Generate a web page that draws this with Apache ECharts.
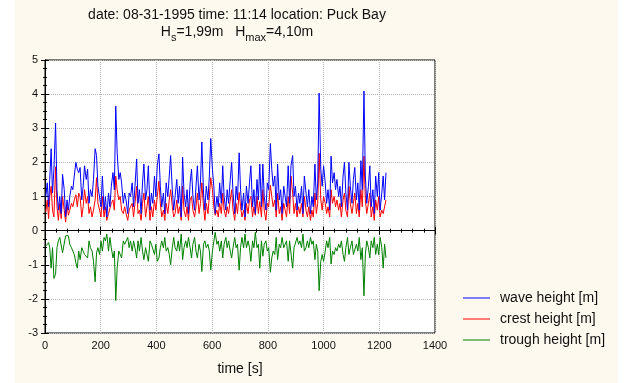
<!DOCTYPE html>
<html>
<head>
<meta charset="utf-8">
<script src="https://cdn.jsdelivr.net/npm/echarts@6/dist/echarts.min.js"></script>
<style>
  html, body { margin: 0; padding: 0; background: #fff; }
  #chart { width: 636px; height: 383px; }
</style>
</head>
<body>
<div id="chart"></div>
<script>
// time of each wave [s]
const time = [
  3, 8, 13, 17, 22, 27, 32, 38, 43, 48,
  53, 58, 63, 69, 74, 79, 84, 89, 95, 100,
  105, 111, 116, 121, 126, 132, 137, 142, 148, 153,
  158, 163, 169, 174, 180, 185, 190, 196, 201, 206,
  212, 217, 222, 228, 233, 238, 244, 249, 254, 259,
  265, 270, 275, 281, 286, 291, 297, 302, 307, 313,
  318, 323, 329, 334, 339, 345, 350, 355, 361, 366,
  371, 377, 382, 387, 393, 398, 403, 409, 414, 419,
  425, 430, 435, 441, 446, 451, 457, 462, 467, 473,
  478, 483, 489, 494, 499, 505, 510, 515, 521, 526,
  531, 537, 542, 547, 553, 558, 563, 569, 574, 579,
  585, 590, 595, 601, 606, 611, 617, 622, 627, 633,
  638, 643, 649, 654, 659, 665, 670, 675, 681, 686,
  691, 697, 702, 707, 713, 718, 723, 729, 734, 739,
  745, 750, 755, 761, 766, 771, 777, 782, 787, 793,
  798, 803, 809, 814, 819, 825, 830, 835, 841, 846,
  851, 857, 862, 867, 873, 878, 883, 889, 894, 899,
  905, 910, 915, 921, 926, 931, 937, 942, 947, 953,
  958, 963, 969, 974, 979, 984, 990, 995, 1000, 1006,
  1011, 1016, 1022, 1027, 1032, 1038, 1043, 1048, 1054, 1059,
  1064, 1070, 1075, 1080, 1086, 1091, 1096, 1102, 1107, 1112,
  1118, 1123, 1128, 1134, 1139, 1145, 1150, 1155, 1161, 1166,
  1171, 1177, 1182, 1187, 1193, 1198, 1203, 1209, 1214, 1219,
  1224
];

// wave height [m]
const waveHeight = [
  1.0, 1.4, 0.7, 1.5, 2.4, 1.1, 1.8, 3.15, 1.2, 0.6,
  1.0, 0.5, 1.65, 1.2, 0.4, 0.9, 0.6, 1.0, 1.3, 1.2,
  1.6, 2.0, 1.8, 1.7, 1.85, 0.9, 1.3, 1.9, 1.5, 1.8,
  0.8, 1.2, 1.0, 1.5, 2.4, 2.2, 1.3, 1.3, 0.7, 1.6,
  0.6, 1.0, 0.4, 1.1, 0.7, 1.3, 1.7, 1.2, 3.65, 2.3,
  1.5, 1.7, 1.4, 0.8, 1.1, 0.9, 0.5, 1.1, 1.0, 1.4,
  0.7, 1.3, 2.1, 0.8, 1.2, 0.5, 1.4, 1.95, 0.9, 1.2,
  1.9, 0.6, 1.1, 0.8, 1.6, 1.0, 1.9, 2.25, 1.3, 0.7,
  1.1, 0.5, 1.4, 1.0, 1.6, 2.2, 1.2, 0.6, 1.0, 1.5,
  0.8, 1.3, 0.4, 2.15, 1.1, 0.7, 1.2, 0.5, 1.4, 1.8,
  1.0, 0.6, 1.3, 1.9, 0.9, 1.4, 2.6, 1.1, 0.6, 1.3,
  0.9, 1.6, 2.7, 1.8, 1.3, 0.5, 1.0, 0.7, 1.4, 0.8,
  1.9, 1.0, 0.6, 1.2, 0.8, 1.5, 2.0, 1.1, 0.5, 1.3,
  0.9, 2.28, 1.2, 0.6, 1.1, 0.4, 1.3, 0.8, 1.4, 1.9,
  0.7, 1.2, 0.5, 1.5, 0.9, 1.95, 0.7, 1.95, 1.0, 0.6,
  1.4, 1.2, 2.55, 1.8, 1.3, 1.6, 0.6, 1.95, 0.9, 1.2,
  0.5, 1.3, 1.0, 0.7, 1.9, 0.8, 1.9, 2.2, 1.0, 1.3,
  0.6, 1.1, 0.8, 1.3, 0.5, 1.6, 1.1, 0.7, 1.2, 0.5,
  1.0, 0.7, 1.95, 0.9, 1.4, 4.03, 1.8, 1.3, 1.9, 1.4,
  0.8, 1.2, 0.6, 2.18, 1.4, 1.7, 1.2, 1.5, 1.0, 1.3,
  0.7, 1.6, 2.0, 1.1, 0.6, 2.0, 1.3, 0.8, 1.5, 1.85,
  0.9, 1.4, 0.6, 2.05, 1.2, 4.09, 1.6, 0.8, 1.3, 1.9,
  0.7, 1.2, 0.5, 1.6, 1.0, 1.7, 0.6, 1.1, 1.6, 0.9,
  1.7
];

// crest height [m]
const crestHeight = [
  0.55, 0.9, 0.35, 1.0, 1.3, 0.6, 0.4, 1.87, 0.7, 0.3,
  0.8, 0.35, 1.0, 0.6, 0.25, 0.75, 0.45, 0.6, 0.8, 0.7,
  0.9, 1.05, 0.7, 1.1, 1.0, 0.4, 0.7, 1.2, 0.8, 1.0,
  0.5, 0.7, 0.4, 0.6, 0.9, 1.55, 0.8, 0.6, 0.4, 1.0,
  0.4, 0.7, 0.3, 0.5, 0.5, 0.8, 0.9, 0.6, 1.6, 1.2,
  0.9, 1.0, 0.6, 0.5, 0.7, 0.5, 0.3, 0.6, 0.7, 0.8,
  0.4, 0.8, 1.3, 0.5, 0.6, 0.3, 0.8, 1.1, 0.4, 0.7,
  1.0, 0.3, 0.7, 0.4, 0.9, 0.6, 1.0, 1.45, 0.8, 0.4,
  0.6, 0.3, 0.8, 0.5, 0.9, 1.2, 0.7, 0.4, 0.5, 0.9,
  0.5, 0.7, 0.3, 1.3, 0.6, 0.4, 0.7, 0.3, 0.9, 1.0,
  0.6, 0.4, 0.7, 1.1, 0.5, 0.8, 1.4, 0.7, 0.3, 0.8,
  0.5, 1.0, 1.55, 1.2, 0.7, 0.45, 0.6, 0.4, 0.8, 0.5,
  1.1, 0.6, 0.4, 0.7, 0.5, 0.9, 1.2, 0.6, 0.3, 0.8,
  0.5, 1.12, 0.7, 0.4, 0.6, 0.3, 0.8, 0.5, 0.9, 1.0,
  0.4, 0.7, 0.45, 1.0, 0.5, 0.85, 0.4, 1.2, 0.6, 0.3,
  0.8, 0.7, 1.33, 1.0, 0.7, 0.9, 0.4, 1.1, 0.5, 0.7,
  0.3, 0.8, 0.6, 0.4, 1.0, 0.5, 1.6, 1.1, 0.5, 0.8,
  0.4, 0.7, 0.5, 0.8, 0.4, 1.0, 0.6, 0.4, 0.7, 0.3,
  0.6, 0.4, 1.1, 0.5, 0.8, 2.27, 0.9, 0.6, 1.0, 0.8,
  0.5, 0.7, 0.4, 1.2, 0.8, 1.0, 0.7, 0.9, 0.6, 0.8,
  0.4, 0.9, 1.1, 0.6, 0.4, 1.3, 0.8, 0.5, 0.8, 1.1,
  0.5, 0.8, 0.4, 1.2, 0.7, 2.18, 0.9, 0.5, 0.8, 1.1,
  0.4, 0.7, 0.3, 0.9, 0.6, 1.0, 0.4, 0.6, 0.5, 0.5,
  0.9
];

// trough height [m]
const troughHeight = [
  -0.45, -0.5, -0.35, -0.5, -1.1, -0.5, -1.4, -1.28, -0.5, -0.3,
  -0.2, -0.15, -0.65, -0.6, -0.15, -0.15, -0.15, -0.4, -0.5, -0.5,
  -0.7, -0.95, -1.1, -0.6, -0.85, -0.5, -0.6, -0.7, -0.7, -0.8,
  -0.3, -0.5, -0.6, -0.9, -1.5, -0.65, -0.5, -0.7, -0.3, -0.6,
  -0.2, -0.3, -0.1, -0.6, -0.2, -0.5, -0.8, -0.6, -2.05, -1.1,
  -0.6, -0.7, -0.8, -0.3, -0.4, -0.4, -0.2, -0.5, -0.3, -0.6,
  -0.3, -0.5, -0.8, -0.3, -0.6, -0.2, -0.6, -0.85, -0.5, -0.5,
  -0.9, -0.3, -0.4, -0.4, -0.7, -0.4, -0.9, -0.8, -0.5, -0.3,
  -0.5, -0.2, -0.6, -0.5, -0.7, -1.0, -0.5, -0.2, -0.5, -0.6,
  -0.3, -0.6, -0.1, -0.85, -0.5, -0.3, -0.5, -0.2, -0.5, -0.8,
  -0.4, -0.2, -0.6, -0.8, -0.4, -0.6, -1.2, -0.4, -0.3, -0.5,
  -0.4, -0.6, -1.15, -0.6, -0.6, -0.05, -0.4, -0.3, -0.6, -0.3,
  -0.8, -0.4, -0.2, -0.5, -0.3, -0.6, -0.8, -0.5, -0.2, -0.5,
  -0.4, -1.16, -0.5, -0.2, -0.5, -0.1, -0.5, -0.3, -0.5, -0.9,
  -0.3, -0.5, -0.05, -0.5, -0.4, -1.1, -0.3, -0.75, -0.4, -0.3,
  -0.6, -0.5, -1.22, -0.8, -0.6, -0.7, -0.2, -0.85, -0.4, -0.5,
  -0.2, -0.5, -0.4, -0.3, -0.9, -0.3, -0.3, -1.1, -0.5, -0.5,
  -0.2, -0.4, -0.3, -0.5, -0.1, -0.6, -0.5, -0.3, -0.5, -0.2,
  -0.4, -0.3, -0.85, -0.4, -0.6, -1.76, -0.9, -0.7, -0.9, -0.6,
  -0.3, -0.5, -0.2, -0.98, -0.6, -0.7, -0.5, -0.6, -0.4, -0.5,
  -0.3, -0.7, -0.9, -0.5, -0.2, -0.7, -0.5, -0.3, -0.7, -0.75,
  -0.4, -0.6, -0.2, -0.85, -0.5, -1.91, -0.7, -0.3, -0.5, -0.8,
  -0.3, -0.5, -0.2, -0.7, -0.4, -0.7, -0.2, -0.5, -1.1, -0.4,
  -0.8
];

const seriesNames = ['wave height [m]', 'crest height [m]', 'trough height [m]'];
const seriesColors = ['#0000ff', '#ff0000', '#008000'];
const seriesValues = [waveHeight, crestHeight, troughHeight];

const FONT = '"Liberation Sans", Arial, sans-serif';

const chart = echarts.init(document.getElementById('chart'));

const gridLine = {show: true, lineStyle: {color: '#b8b8b8', type: 'dotted', width: 1}};
const tickStyle = {inside: true, length: 4, lineStyle: {color: '#000'}};

const option = {
  backgroundColor: '#ffffff',
  animation: false,
  graphic: [
    {type: 'rect', z: -10, shape: {x: 15, y: 0, width: 603, height: 383}, style: {fill: '#fef9ee'}},
    {
      type: 'text', x: 237, y: 15,
      style: {
        text: 'date: 08-31-1995 time: 11:14 location: Puck Bay',
        font: '14px ' + FONT, fill: '#111', align: 'center', verticalAlign: 'middle'
      }
    },
    {
      type: 'text', x: 237, y: 25,
      style: {
        text: '{n|H}{s|s}{n|=1,99m   H}{s|max}{n|=4,10m}',
        fill: '#111', align: 'center', verticalAlign: 'top',
        rich: {
          n: {fontSize: 14, fontFamily: FONT, lineHeight: 16, verticalAlign: 'top'},
          s: {fontSize: 11, fontFamily: FONT, lineHeight: 11, verticalAlign: 'top', padding: [7, 0, 0, 0]}
        }
      }
    }
  ],
  legend: {
    orient: 'vertical',
    left: 463,
    top: 291,
    padding: 0,
    itemWidth: 27,
    itemHeight: 14,
    itemGap: 7,
    icon: 'path://M0,7L27,7L27,8L0,8Z',
    textStyle: {fontSize: 14, fontFamily: FONT, color: '#111', padding: [0, 0, 0, 5]},
    data: seriesNames.map((n, i) => ({name: n, itemStyle: {color: seriesColors[i]}}))
  },
  grid: {
    left: 45, top: 60, width: 390, height: 273,
    show: true, backgroundColor: '#ffffff', borderColor: '#000', borderWidth: 1
  },
  xAxis: [
    {
      type: 'value', min: 0, max: 1400, interval: 200,
      name: 'time [s]', nameLocation: 'middle', nameGap: 29,
      nameTextStyle: {fontSize: 14, fontFamily: FONT, color: '#111'},
      axisLine: {show: true, lineStyle: {color: '#000'}},
      axisTick: tickStyle,
      minorTick: {show: true, splitNumber: 5, length: 2, lineStyle: {color: '#000'}},
      axisLabel: {fontSize: 11, fontFamily: FONT, color: '#111', margin: 7, formatter: v => String(v)},
      splitLine: gridLine
    },
    {
      type: 'value', position: 'top', min: 0, max: 1400, interval: 200,
      axisLine: {show: true, lineStyle: {color: '#000'}},
      axisTick: tickStyle,
      minorTick: {show: true, splitNumber: 5, length: 2, lineStyle: {color: '#000'}},
      axisLabel: {show: false},
      splitLine: {show: false}
    }
  ],
  yAxis: [
    {
      type: 'value', min: -3, max: 5, interval: 1,
      axisLine: {show: true, lineStyle: {color: '#000'}},
      axisTick: tickStyle,
      minorTick: {show: true, splitNumber: 4, length: 2, lineStyle: {color: '#000'}},
      axisLabel: {fontSize: 11, fontFamily: FONT, color: '#111', margin: 7},
      splitLine: gridLine
    },
    {
      type: 'value', position: 'right', min: -3, max: 5, interval: 1,
      axisLine: {show: true, lineStyle: {color: '#000'}},
      axisTick: tickStyle,
      minorTick: {show: true, splitNumber: 4, length: 2, lineStyle: {color: '#000'}},
      axisLabel: {show: false},
      splitLine: {show: false}
    }
  ],
  series: seriesNames.map((name, i) => ({
    name: name,
    type: 'line',
    symbol: 'none',
    lineStyle: {color: seriesColors[i], width: 1},
    itemStyle: {color: seriesColors[i]},
    z: 3 - i,
    data: time.map((t, k) => [t, seriesValues[i][k]])
  }))
};

chart.setOption(option);
</script>
</body>
</html>
